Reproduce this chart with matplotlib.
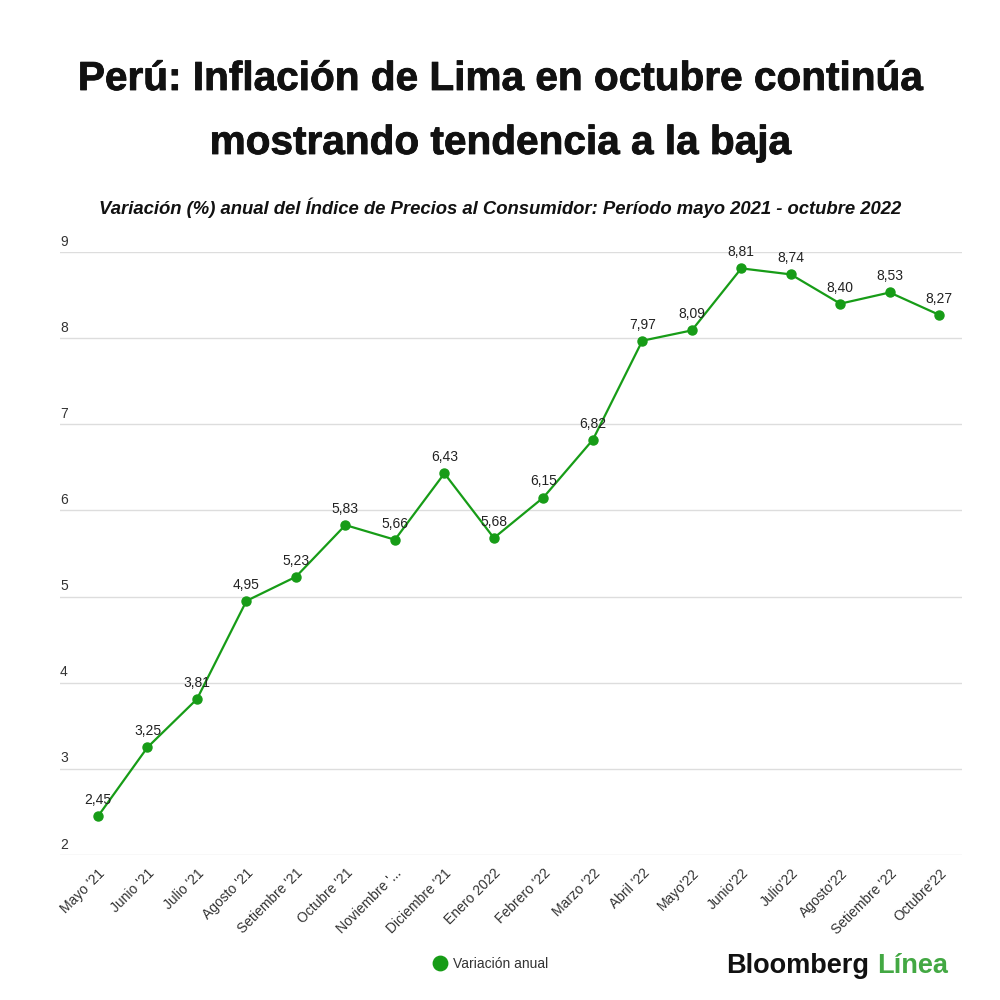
import matplotlib
matplotlib.use("Agg")
import matplotlib.pyplot as plt
import matplotlib.patheffects as pe
import matplotlib.transforms as mtrans

months = ["Mayo '21", "Junio '21", "Julio '21", "Agosto '21", "Setiembre '21",
          "Octubre '21", "Noviembre '...", "Diciembre '21", "Enero 2022",
          "Febrero '22", "Marzo '22", "Abril '22", "Mayo'22", "Junio'22",
          "Julio'22", "Agosto'22", "Setiembre '22", "Octubre'22"]
values = [2.45, 3.25, 3.81, 4.95, 5.23, 5.83, 5.66, 6.43, 5.68,
          6.15, 6.82, 7.97, 8.09, 8.81, 8.74, 8.40, 8.53, 8.27]
yticks = [2, 3, 4, 5, 6, 7, 8, 9]

GREEN = "#179c17"
FONT = "Liberation Sans"
plt.rcParams['font.family'] = [FONT, 'DejaVu Sans']

fig = plt.figure(figsize=(10, 10), dpi=100)
fig.patch.set_facecolor("white")
ax = fig.add_axes([0.06, 0.145, 0.902, 0.603])

x = list(range(len(values)))
ax.plot(x, values, color=GREEN, lw=1.6, marker="o", ms=6.5,
        markerfacecolor=GREEN, markeredgecolor=GREEN, label="Variación anual", zorder=3)
for xi, v in zip(x, values):
    ax.annotate(f"{v:.2f}".replace(".", ","), (xi, v), xytext=(0, 6.5),
                textcoords="offset points", ha="center", va="bottom",
                fontsize=10, color="#222222", zorder=4)

ax.set_xlim(-0.768, 17.46)
ax.set_ylim(2, 9)
ax.set_yticks(yticks)
ax.set_yticklabels([str(t) for t in yticks])
ax.grid(axis="y", color="#dddddd", lw=1)
ax.set_axisbelow(True)
for s in ax.spines.values():
    s.set_visible(False)
ax.tick_params(axis="y", length=0, pad=0, labelsize=10, labelcolor="#333333")
for lbl in ax.get_yticklabels():
    lbl.set_horizontalalignment("left")
    lbl.set_verticalalignment("bottom")
    lbl.set_x(0.0)
    lbl.set_transform(ax.get_yaxis_transform() + mtrans.ScaledTranslation(0, 2.5/72, fig.dpi_scale_trans))
ax.set_xticks(x)
ax.set_xticklabels(months, rotation=45, ha="right", rotation_mode="anchor",
                   fontsize=10, color="#333333")
ax.tick_params(axis="x", length=0, pad=8)

heavy = [pe.withStroke(linewidth=0.6, foreground="#111111")]
fig.text(0.5, 0.91, "Perú: Inflación de Lima en octubre continúa", ha="center",
         va="baseline", fontsize=29.2, fontweight="bold", color="#111111",
         path_effects=heavy)
fig.text(0.5, 0.846, "mostrando tendencia a la baja", ha="center",
         va="baseline", fontsize=29.2, fontweight="bold", color="#111111",
         path_effects=heavy)
fig.text(0.5, 0.786, "Variación (%) anual del Índice de Precios al Consumidor: Período mayo 2021 - octubre 2022",
         ha="center", va="baseline", fontsize=13.3, fontweight="bold",
         style="italic", color="#111111")

# legend
leg = fig.legend(handles=[ax.lines[0]], loc="center", bbox_to_anchor=(0.494, 0.036),
                 frameon=False, handlelength=0, handletextpad=0.9, fontsize=10,
                 markerscale=1.6)
for h in leg.legend_handles:
    h.set_linestyle("none")
for t in leg.get_texts():
    t.set_color("#333333")

# logo
t1 = fig.text(0.726, 0.034, "Bloomberg", ha="left", va="center", fontsize=19.5,
              fontweight="bold", color="#111111")
fig.canvas.draw()
bb = t1.get_window_extent()
fig.text(bb.x1 / fig.bbox.width + 0.008, 0.034, "Línea", ha="left", va="center",
         fontsize=19.5, fontweight="bold", color="#43a843")

fig.savefig("out.png", dpi=100, facecolor="white")
